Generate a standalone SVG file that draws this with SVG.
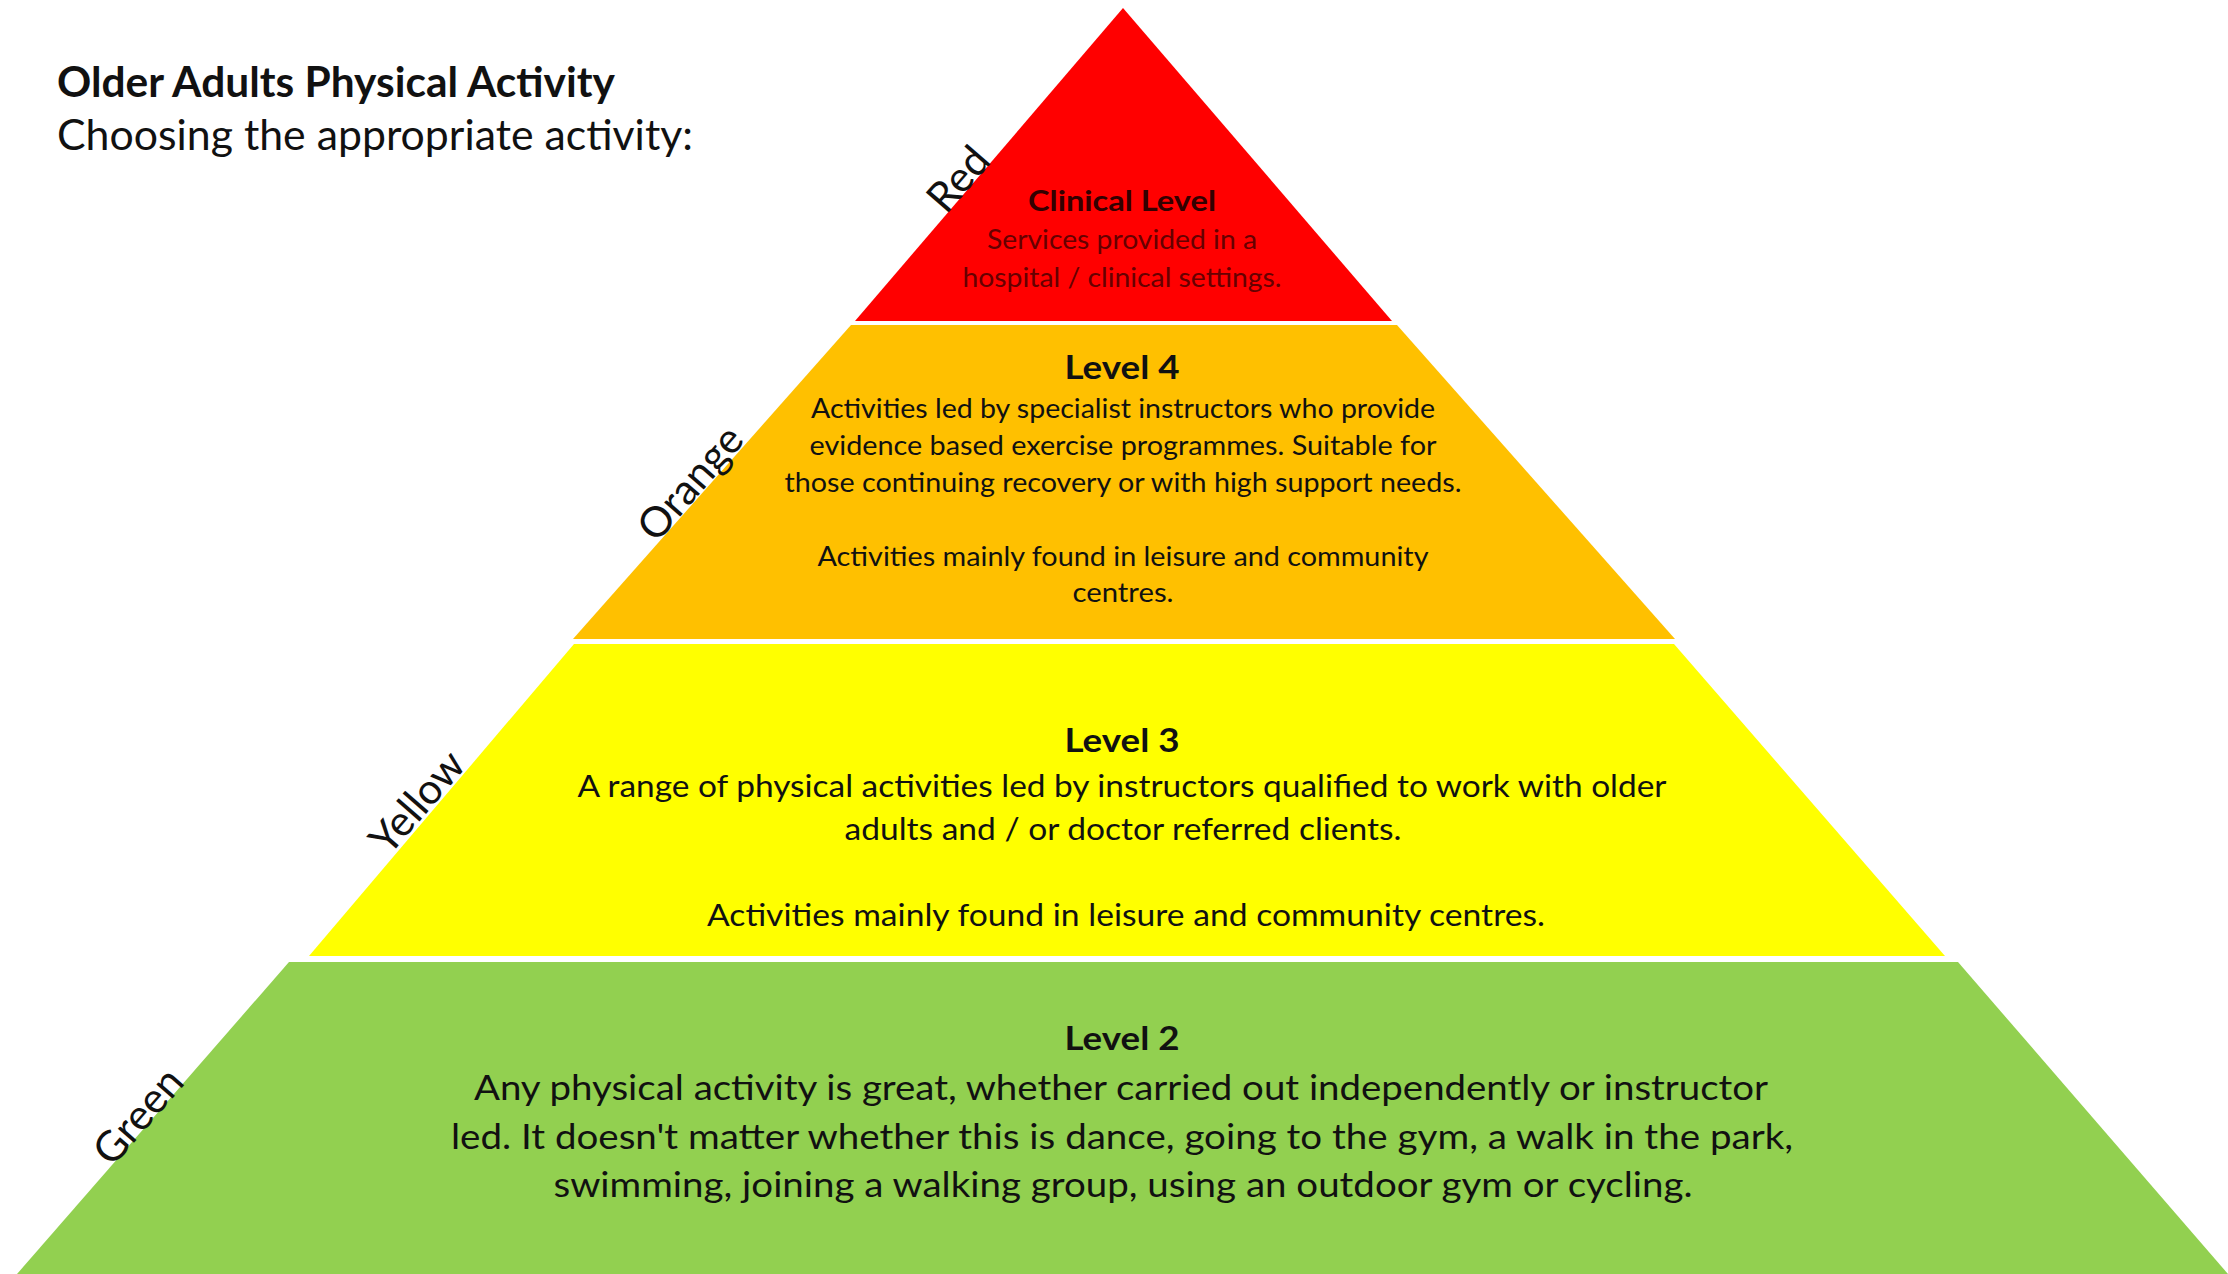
<svg xmlns="http://www.w3.org/2000/svg" width="2228" height="1274" viewBox="0 0 2228 1274">
<style>
  text { font-family: Lato, "Open Sans", "Liberation Sans", sans-serif; fill: #111; }
  .title { font-size: 42px; font-weight: bold; }
  .sub { font-size: 42px; }
  .side { font-size: 42px; dominant-baseline: central; text-anchor: middle; }
  .c { text-anchor: middle; }
  .head { font-size: 33px; font-weight: bold; }
  .b26 { font-size: 26px; }
  .b30 { font-size: 30px; }
  .b35 { font-size: 35px; }
  .red-h { fill: #330000; font-size: 29px; font-weight: bold; }
  .red-b { fill: #660000; font-size: 26px; }
</style>
<rect width="2228" height="1274" fill="#ffffff"/>

<g id="title">
  <text class="title" x="57" y="97" textLength="558" lengthAdjust="spacingAndGlyphs">Older Adults Physical Activity</text>
  <text class="sub" x="57" y="150" textLength="636" lengthAdjust="spacingAndGlyphs">Choosing the appropriate activity:</text>
</g>

<g id="level-clinical">
  <polygon points="1123,8 1392,321 855,321" fill="#FF0000"/>
  <text class="c red-h" x="1122" y="211" textLength="188" lengthAdjust="spacingAndGlyphs">Clinical Level</text>
  <text class="c red-b" x="1122" y="249" textLength="270" lengthAdjust="spacingAndGlyphs">Services provided in a</text>
  <text class="c red-b" x="1122" y="287" textLength="319" lengthAdjust="spacingAndGlyphs">hospital / clinical settings.</text>
  <text class="side" transform="translate(957,178) rotate(-49)">Red</text>
</g>

<g id="level-4">
  <polygon points="851,325 1397,325 1675,639 573,639" fill="#FFC000"/>
  <text class="c head" x="1122" y="379" textLength="115" lengthAdjust="spacingAndGlyphs">Level 4</text>
  <text class="c b26" x="1123" y="418" textLength="624" lengthAdjust="spacingAndGlyphs">Activities led by specialist instructors who provide</text>
  <text class="c b26" x="1123" y="455" textLength="627" lengthAdjust="spacingAndGlyphs">evidence based exercise programmes. Suitable for</text>
  <text class="c b26" x="1123" y="492" textLength="677" lengthAdjust="spacingAndGlyphs">those continuing recovery or with high support needs.</text>
  <text class="c b26" x="1123" y="566" textLength="611" lengthAdjust="spacingAndGlyphs">Activities mainly found in leisure and community</text>
  <text class="c b26" x="1123" y="602" textLength="101" lengthAdjust="spacingAndGlyphs">centres.</text>
  <text class="side" transform="translate(689,482) rotate(-49)">Orange</text>
</g>

<g id="level-3">
  <polygon points="574,644 1674,644 1945,956 309,956" fill="#FFFF00"/>
  <text class="c head" x="1122" y="752" textLength="115" lengthAdjust="spacingAndGlyphs">Level 3</text>
  <text class="c b30" x="1122" y="797" textLength="1089" lengthAdjust="spacingAndGlyphs">A range of physical activities led by instructors qualified to work with older</text>
  <text class="c b30" x="1123" y="840" textLength="557" lengthAdjust="spacingAndGlyphs">adults and / or doctor referred clients.</text>
  <text class="c b30" x="1126" y="926" textLength="838" lengthAdjust="spacingAndGlyphs">Activities mainly found in leisure and community centres.</text>
  <text class="side" transform="translate(416,801) rotate(-49)">Yellow</text>
</g>

<g id="level-2">
  <polygon points="289,962 1958,962 2228,1274 17,1274" fill="#92D050"/>
  <text class="c head" x="1122" y="1050" textLength="115" lengthAdjust="spacingAndGlyphs">Level 2</text>
  <text class="c b35" x="1121" y="1100" textLength="1294" lengthAdjust="spacingAndGlyphs">Any physical activity is great, whether carried out independently or instructor</text>
  <text class="c b35" x="1122" y="1149" textLength="1342" lengthAdjust="spacingAndGlyphs">led. It doesn't matter whether this is dance, going to the gym, a walk in the park,</text>
  <text class="c b35" x="1123" y="1197" textLength="1139" lengthAdjust="spacingAndGlyphs">swimming, joining a walking group, using an outdoor gym or cycling.</text>
  <text class="side" transform="translate(137,1115) rotate(-49)">Green</text>
</g>

<g id="connectors"></g>
</svg>
